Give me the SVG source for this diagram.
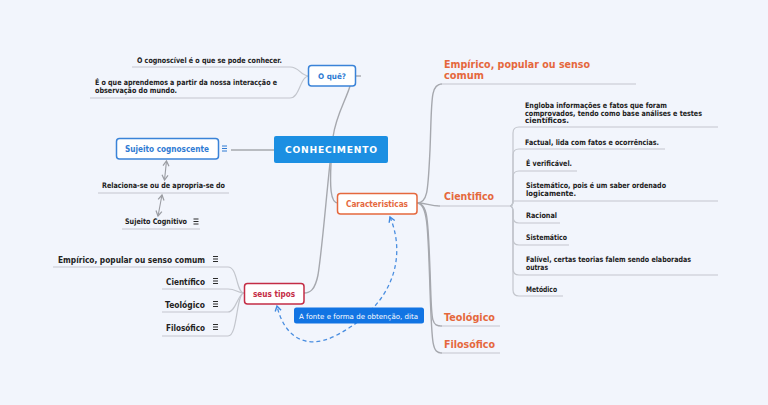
<svg xmlns="http://www.w3.org/2000/svg" xmlns:xlink="http://www.w3.org/1999/xlink" width="768" height="405" viewBox="0 0 768 405">
<style>
.bg{fill:#f2f5fc}
.t{font-family:"DejaVu Sans",Verdana,"Liberation Sans",sans-serif;font-weight:bold;fill:#222222}
.s7{font-size:7.6px}
.s8{font-size:8.4px}
.ul{stroke:#c3c6cd;stroke-width:1.2;fill:none}
.cn{stroke:#a6a8ae;stroke-width:1.4;fill:none}
.nb{fill:#ffffff;stroke:#3a83d8;stroke-width:1.5}
.nbt{fill:#2f7bd3}
.dash{stroke:#4a8ee0;stroke-width:1.3;fill:none;stroke-dasharray:4 3}
.ico{stroke:#2a2a2a;stroke-width:1}
</style>
<defs>
<marker id="ah" viewBox="0 0 8 8" markerWidth="8" markerHeight="8" refX="7" refY="4" orient="auto-start-reverse" markerUnits="userSpaceOnUse" overflow="visible">
<path d="M2,1 L7,4 L2,7" fill="none" stroke="#3f88df" stroke-width="1.4"/>
</marker>
<marker id="ga" viewBox="0 0 8 8" markerWidth="8" markerHeight="8" refX="7" refY="4" orient="auto-start-reverse" markerUnits="userSpaceOnUse" overflow="visible">
<path d="M2,1 L7,4 L2,7" fill="none" stroke="#9a9ca2" stroke-width="1.2"/>
</marker>
<g id="note"><line class="ico" x1="0" y1="0" x2="5" y2="0"/><line class="ico" x1="0" y1="2.5" x2="5" y2="2.5"/><line class="ico" x1="0" y1="5" x2="5" y2="5"/></g>
<g id="noteb"><line x1="0" y1="0" x2="5" y2="0" stroke="#2f7bd3"/><line x1="0" y1="2.5" x2="5" y2="2.5" stroke="#2f7bd3"/><line x1="0" y1="5" x2="5" y2="5" stroke="#2f7bd3"/></g>
</defs>
<rect class="bg" x="0" y="0" width="768" height="405"/>

<g id="connectors">
<path class="cn" d="M333,137 C336,115 346,100 350,86"/>
<line class="cn" x1="356" y1="76" x2="361" y2="76"/>
<line class="cn" x1="231" y1="150" x2="274" y2="150"/>
<path class="cn" d="M331,163 C330,185 330,203 338,203"/>
<path class="cn" d="M330,163 C326,200 322,250 318,275 C315,290 310,293 304,293"/>
<path class="ul" d="M132,67 L290,67 C300,67 300,76 309,76"/>
<path class="ul" d="M90,98 L290,98 C300,98 300,76 309,76"/>
<path d="M166.5,161 L164.5,180" stroke="#9a9ca2" stroke-width="1.1" fill="none" marker-start="url(#ga)" marker-end="url(#ga)"/>
<path d="M162,195 L158,216" stroke="#9a9ca2" stroke-width="1.1" fill="none" marker-start="url(#ga)" marker-end="url(#ga)"/>
<line class="ul" x1="98" y1="193" x2="229" y2="193"/>
<line class="ul" x1="122" y1="229" x2="200" y2="229"/>
<path class="ul" d="M53,267 L228,267 C238,267 236,293 244,293"/>
<path class="ul" d="M162,289 L228,289 C236,289 238,293 244,293"/>
<path class="ul" d="M162,312 L228,312 C236,312 238,293 244,293"/>
<path class="ul" d="M162,336 L228,336 C238,336 236,293 244,293"/>
<path class="cn" d="M417,203 C428,203 428,190 430,150 C432,100 430,84 442,84"/>
<path class="ul" d="M440,84 L636,84"/>
<path class="cn" d="M417,203 C426,203 430,206 440,206"/>
<path class="ul" d="M438,206 L510,206"/>
<path class="cn" d="M417,203 C428,203 428,220 430,270 C432,320 430,326 442,326"/>
<path class="ul" d="M440,326 L500,326"/>
<path class="cn" d="M417,203 C428,203 428,230 430,290 C432,345 432,353 442,353"/>
<path class="ul" d="M440,353 L500,353"/>
<path class="ul" d="M510,206 Q513,206 513,200 L513,133 Q513,127 519,127 L718,127"/>
<path class="ul" d="M510,206 Q513,206 513,200 L513,155 Q513,149 519,149 L665,149"/>
<path class="ul" d="M510,206 Q513,206 513,200 L513,177 Q513,171 519,171 L577,171"/>
<path class="ul" d="M510,206 Q513,206 513,201 Q513,201 519,201 L718,201"/>
<path class="ul" d="M510,206 Q513,206 513,212 L513,217 Q513,223 519,223 L560,223"/>
<path class="ul" d="M510,206 Q513,206 513,212 L513,239 Q513,245 519,245 L569,245"/>
<path class="ul" d="M510,206 Q513,206 513,212 L513,269 Q513,275 519,275 L718,275"/>
<path class="ul" d="M510,206 Q513,206 513,212 L513,290 Q513,296 519,296 L563,296"/>
<path class="dash" d="M390,217 C406,255 396,305 335,336 C305,351 284,336 277,306" marker-start="url(#ah)" marker-end="url(#ah)"/>
</g>

<g id="central">
<rect x="274" y="136" width="114" height="27" rx="2" fill="#1c8fe2"/>
<text x="331" y="153" text-anchor="middle" font-family="DejaVu Sans,Verdana,sans-serif" font-weight="bold" font-size="9.2" fill="#ffffff" textLength="92" lengthAdjust="spacing">CONHECIMENTO</text>
</g>

<g id="o-que">
<rect class="nb" x="308.5" y="65.5" width="47" height="20.5" rx="3"/>
<text class="t s7 nbt" x="332" y="79" text-anchor="middle" textLength="28" lengthAdjust="spacingAndGlyphs">O quê?</text>
</g>
<g id="oque-1"><text class="t s7" x="137" y="63" textLength="145" lengthAdjust="spacingAndGlyphs">O cognoscível é o que se pode conhecer.</text></g>
<g id="oque-2">
<text class="t s7" x="95" y="84.5" textLength="182" lengthAdjust="spacingAndGlyphs">É o que aprendemos a partir da nossa interacção e</text>
<text class="t s7" x="95" y="92.5" textLength="82" lengthAdjust="spacingAndGlyphs">observação do mundo.</text>
</g>

<g id="sujeito-cognoscente">
<rect class="nb" x="116.5" y="138.5" width="102" height="20.5" rx="3"/>
<text class="t s8 nbt" x="125" y="151.5" textLength="84" lengthAdjust="spacingAndGlyphs">Sujeito cognoscente</text>
<use xlink:href="#noteb" x="222" y="146"/>
</g>
<g id="relaciona"><text class="t s7" x="102" y="188" textLength="123" lengthAdjust="spacingAndGlyphs">Relaciona-se ou de apropria-se do</text></g>
<g id="sujeito-cognitivo">
<text class="t s7" x="125" y="224" textLength="62" lengthAdjust="spacingAndGlyphs">Sujeito Cognitivo</text>
<use xlink:href="#note" x="193.5" y="219"/>
</g>

<g id="seus-tipos">
<rect x="244.5" y="283.5" width="59.5" height="20.5" rx="3" fill="#ffffff" stroke="#c42c45" stroke-width="1.5"/>
<text class="t s8" x="274" y="296.5" text-anchor="middle" style="fill:#c42c45" textLength="42" lengthAdjust="spacingAndGlyphs">seus tipos</text>
</g>
<g id="tipo-empirico"><text class="t s8" x="58" y="263" textLength="147" lengthAdjust="spacingAndGlyphs">Empírico, popular ou senso comum</text><use xlink:href="#note" x="213" y="256.5"/></g>
<g id="tipo-cientifico"><text class="t s8" x="166" y="285" textLength="39" lengthAdjust="spacingAndGlyphs">Científico</text><use xlink:href="#note" x="213" y="278.5"/></g>
<g id="tipo-teologico"><text class="t s8" x="165" y="308" textLength="40" lengthAdjust="spacingAndGlyphs">Teológico</text><use xlink:href="#note" x="213" y="301.5"/></g>
<g id="tipo-filosofico"><text class="t s8" x="166" y="331" textLength="39" lengthAdjust="spacingAndGlyphs">Filosófico</text><use xlink:href="#note" x="213" y="324.5"/></g>

<g id="caracteristicas">
<rect x="337.5" y="193.5" width="79.5" height="20.5" rx="3" fill="#ffffff" stroke="#e5683d" stroke-width="1.5"/>
<text class="t s8" x="377" y="206.5" text-anchor="middle" style="fill:#e5683d" textLength="62" lengthAdjust="spacingAndGlyphs">Caracteristicas</text>
</g>
<g id="c-empirico">
<text class="t" x="444" y="67.5" font-size="10.5" style="fill:#e5683d" textLength="146" lengthAdjust="spacingAndGlyphs">Empírico, popular ou senso</text>
<text class="t" x="444" y="79" font-size="10.5" style="fill:#e5683d" textLength="40" lengthAdjust="spacingAndGlyphs">comum</text>
</g>
<g id="c-cientifico"><text class="t" x="444" y="200" font-size="10.5" style="fill:#e5683d" textLength="50" lengthAdjust="spacingAndGlyphs">Cientifico</text></g>
<g id="c-teologico"><text class="t" x="444" y="321" font-size="10.5" style="fill:#e5683d" textLength="51" lengthAdjust="spacingAndGlyphs">Teológico</text></g>
<g id="c-filosofico"><text class="t" x="444" y="348" font-size="10.5" style="fill:#e5683d" textLength="51" lengthAdjust="spacingAndGlyphs">Filosófico</text></g>

<g id="ci-engloba">
<text class="t s7" x="525" y="108" textLength="142" lengthAdjust="spacingAndGlyphs">Engloba informações e fatos que foram</text>
<text class="t s7" x="525" y="115.5" textLength="177" lengthAdjust="spacingAndGlyphs">comprovados, tendo como base análises e testes</text>
<text class="t s7" x="525" y="123" textLength="44" lengthAdjust="spacingAndGlyphs">científicos.</text>
</g>
<g id="ci-factual"><text class="t s7" x="525" y="144.5" textLength="134" lengthAdjust="spacingAndGlyphs">Factual, lida com fatos e ocorrências.</text></g>
<g id="ci-verificavel"><text class="t s7" x="526" y="165.5" textLength="46" lengthAdjust="spacingAndGlyphs">É verificável.</text></g>
<g id="ci-sistematico1">
<text class="t s7" x="526" y="188" textLength="140" lengthAdjust="spacingAndGlyphs">Sistemático, pois é um saber ordenado</text>
<text class="t s7" x="526" y="196" textLength="50" lengthAdjust="spacingAndGlyphs">logicamente.</text>
</g>
<g id="ci-racional"><text class="t s7" x="526" y="218" textLength="31" lengthAdjust="spacingAndGlyphs">Racional</text></g>
<g id="ci-sistematico2"><text class="t s7" x="526" y="240" textLength="41" lengthAdjust="spacingAndGlyphs">Sistemático</text></g>
<g id="ci-falivel">
<text class="t s7" x="526" y="261.5" textLength="165" lengthAdjust="spacingAndGlyphs">Falível, certas teorias falem sendo elaboradas</text>
<text class="t s7" x="526" y="269.5" textLength="22" lengthAdjust="spacingAndGlyphs">outras</text>
</g>
<g id="ci-metodico"><text class="t s7" x="526" y="291.5" textLength="31" lengthAdjust="spacingAndGlyphs">Metódico</text></g>

<g id="label-fonte">
<rect x="294" y="307.5" width="130" height="16" rx="2.5" fill="#1274e3"/>
<text x="299" y="318.5" font-family="DejaVu Sans,Verdana,sans-serif" font-size="7.2" fill="#ffffff" textLength="119" lengthAdjust="spacingAndGlyphs">A fonte e forma de obtenção, dita</text>
</g>
</svg>
